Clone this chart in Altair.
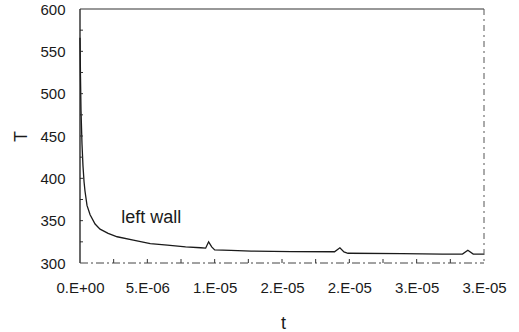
import altair as alt
import pandas as pd

# Left-wall temperature history T(t)
t_s = [0.0, 3.7e-8, 7.5e-8, 1.5e-7, 2.2e-7, 3.0e-7, 3.7e-7, 5.2e-7, 7.5e-7,
       1.12e-6, 1.49e-6, 2.09e-6, 2.76e-6, 3.96e-6, 5.22e-6, 6.49e-6, 7.84e-6,
       8.96e-6, 9.33e-6, 9.55e-6, 9.78e-6, 1.0e-5, 1.12e-5, 1.27e-5, 1.57e-5,
       1.89e-5, 1.93e-5, 1.96e-5, 1.99e-5, 2.39e-5, 2.69e-5, 2.84e-5, 2.88e-5,
       2.92e-5, 3.0e-5]
T_K = [566, 520, 480, 440, 415, 396, 385, 368, 357,
       346, 340, 335, 331, 327, 323, 321, 319,
       318, 317.5, 325, 319, 315.5, 315, 314, 313.5,
       313.3, 318, 313, 311.5, 311, 310.5, 310.5, 315,
       310.5, 310.5]

x_major = [0.0, 5e-6, 1e-5, 1.5e-5, 2e-5, 2.5e-5, 3e-5]
x_labels = ["0.E+00", "5.E-06", "1.E-05", "2.E-05", "2.E-05", "3.E-05", "3.E-05"]
x_minor = [2.5e-6, 5e-6, 7.5e-6, 1e-5, 1.25e-5, 1.5e-5, 1.75e-5, 2e-5,
           2.25e-5, 2.5e-5, 2.75e-5]
y_major = [300, 350, 400, 450, 500, 550, 600]
y_minor = [325, 350, 375, 400, 425, 450, 475, 500, 525, 550, 575]

W, H = 404, 254
FONT = "Liberation Sans"
INK = "#1a1a1a"

df = pd.DataFrame({"t": t_s, "T": T_K})
xs = alt.Scale(domain=[0, 3.0e-5], nice=False, zero=False)
ys = alt.Scale(domain=[300, 600], nice=False, zero=False)

label_expr = "[" + ",".join(f"'{s}'" for s in x_labels) + "][round(datum.value / 5e-6)]"

x_axis = alt.Axis(
    values=x_major, labelExpr=label_expr, title="t", domain=False,
    ticks=False, grid=False, labelFont=FONT, labelFontSize=15,
    labelColor=INK, labelPadding=17, labelOverlap=False, labelFlush=False,
    titleFont=FONT, titleFontSize=18,
    titleFontWeight="normal", titleColor=INK, titleX=203, titleY=65,
    titleBaseline="alphabetic")
y_axis = alt.Axis(
    values=y_major, title="T", domain=False, ticks=False, grid=False,
    labelFont=FONT, labelFontSize=15, labelColor=INK, labelPadding=15,
    labelOverlap=False,
    titleFont=FONT, titleFontSize=18, titleFontWeight="normal",
    titleColor=INK, titleX=-50, titleY=127)

curve = alt.Chart(df).mark_line(color=INK, strokeWidth=1.3).encode(
    x=alt.X("t:Q", scale=xs, axis=x_axis),
    y=alt.Y("T:Q", scale=ys, axis=y_axis),
)

one = pd.DataFrame({"k": [0]})

# inward tick marks
xticks = alt.Chart(pd.DataFrame({"t": x_minor})).mark_rule(color="#333", strokeWidth=1).encode(
    x=alt.X("t:Q", scale=xs, axis=x_axis), y=alt.value(H), y2=alt.value(H - 4))
yticks = alt.Chart(pd.DataFrame({"T": y_minor})).mark_rule(color="#333", strokeWidth=1).encode(
    y=alt.Y("T:Q", scale=ys, axis=y_axis), x=alt.value(0), x2=alt.value(3))

# plot frame
left = alt.Chart(one).mark_rule(color=INK, strokeWidth=1.3).encode(
    x=alt.value(0), y=alt.value(0), y2=alt.value(H))
top = alt.Chart(one).mark_rule(color="#333", strokeWidth=1.2).encode(
    x=alt.value(0), x2=alt.value(W), y=alt.value(0))
bottom = alt.Chart(one).mark_rule(color="#444", strokeWidth=1, strokeDash=[8, 3, 2, 3]).encode(
    x=alt.value(0), x2=alt.value(W), y=alt.value(H))
right = alt.Chart(one).mark_rule(color="#555", strokeWidth=1, strokeDash=[6, 4, 2, 4]).encode(
    x=alt.value(W), y=alt.value(0), y2=alt.value(H))

note = alt.Chart(pd.DataFrame({"t": [3.06e-6], "T": [347], "s": ["left wall"]})).mark_text(
    font=FONT, fontSize=18, color=INK, align="left", baseline="alphabetic").encode(
    x=alt.X("t:Q", scale=xs, axis=x_axis), y=alt.Y("T:Q", scale=ys, axis=y_axis), text="s:N")

chart = alt.layer(curve, xticks, yticks, left, top, bottom, right, note).properties(
    width=W, height=H, autosize="none",
    padding={"left": 80, "top": 9, "right": 35, "bottom": 69},
    background="white",
).configure_view(stroke=None)

chart.save("out.html", embed_options={"renderer": "svg", "actions": False})
